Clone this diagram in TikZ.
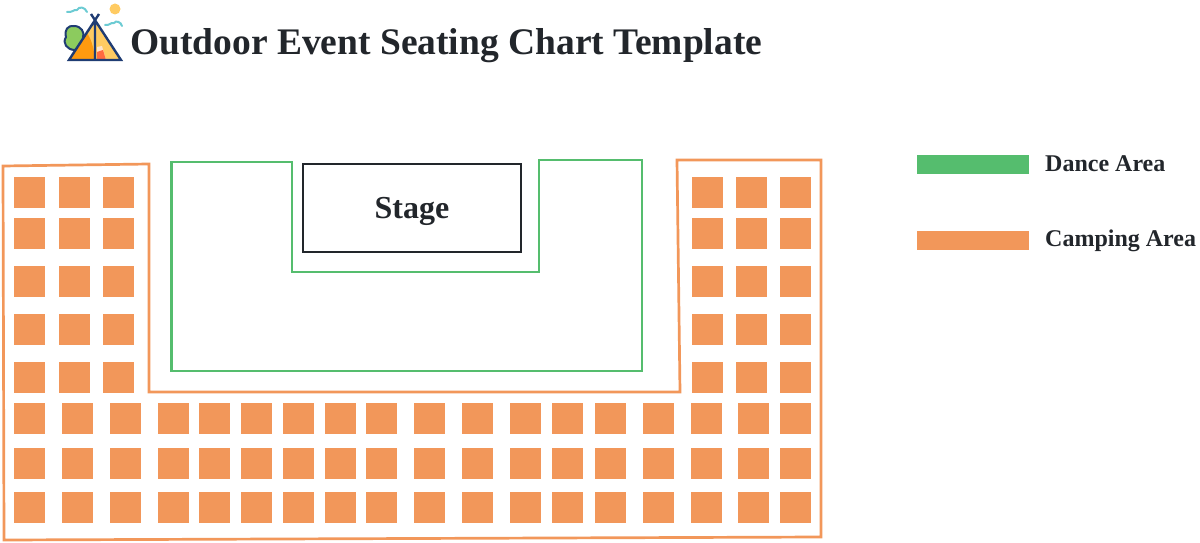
\documentclass[tikz,border=0pt]{standalone}
\usepackage{fontspec}
\setmainfont{Liberation Serif}
\definecolor{camping}{HTML}{F2975A}
\definecolor{dance}{HTML}{55BD6E}
\definecolor{ink}{HTML}{22262B}
\definecolor{navy}{HTML}{1F3C73}
\definecolor{sky}{HTML}{6CCBD3}
\definecolor{sunny}{HTML}{FFCB62}
\definecolor{leaf}{HTML}{8CCB5E}
\definecolor{deep}{HTML}{FF9A0F}
\begin{document}
\begin{tikzpicture}[x=1pt,y=-1pt,line join=miter]
    \tikzstyle{seat}=[fill=camping,minimum size=31pt,inner sep=0pt,anchor=north west]
    \tikzstyle{swatch}=[minimum width=112pt,minimum height=19pt,inner sep=0pt,anchor=north west]
    \tikzstyle{legendtext}=[text=ink,font=\fontsize{24}{24}\selectfont\bfseries,inner sep=0pt,anchor=west]
    \useasboundingbox (0,0) rectangle (1200,543);

    % icon
    \draw[sky,line width=2pt,line cap=round] (67,12) .. controls (72,13) and (74,9) .. (77,10) .. controls (79,6) and (85,7) .. (87,12);
    \draw[sky,line width=2pt,line cap=round] (105,25) .. controls (109,26) and (111,22) .. (114,23) .. controls (116,20) and (121,22) .. (122,26);
    \fill[sunny] (115,9) circle (5.5pt);
    \draw[navy,line width=2pt,fill=leaf] (75,50) .. controls (67,50) and (62,43) .. (66,37) .. controls (64,30) and (68,25) .. (74,26) .. controls (81,26) and (85,32) .. (83,38) .. controls (85,45) and (81,50) .. (75,50) -- cycle;
    \fill[sunny] (95,22) -- (69,60) -- (121,60) -- cycle;
    \fill[deep] (87,33) .. controls (92,40) and (94,50) .. (95,60) -- (69,60) -- cycle;
    \fill[orange!20!white] (97,47) -- (102,46) -- (106,60) -- (97,60) -- cycle;
    \fill[red!55!orange!75!white] (97,52) -- (103,50) -- (106,60) -- (97,60) -- cycle;
    \draw[navy,line width=2.4pt] (91,14) -- (121,60) -- (69,60) -- (99,14) (95,21) -- (95,60);

    % title
    \node[text=ink,font=\fontsize{37.5}{38}\selectfont\bfseries,inner sep=0pt,anchor=west] (title) at (130,46) {Outdoor Event Seating Chart Template};

    % areas
    \draw[camping,line width=2.7pt] (3,166) -- (149,164) -- (149,392) -- (680,392) -- (677,160) -- (821,160) -- (821,537) -- (4,540) -- cycle;
    \draw[dance,line width=2.7pt] (171.5,162) -- (292,162) -- (292,272) -- (539,272) -- (539,160) -- (642,160) -- (642,371) -- (171.5,371) -- cycle;
    \node[draw=ink,line width=2.7pt,minimum width=218pt,minimum height=88pt,inner sep=0pt] (stage) at (412,208) {};
    \node[text=ink,font=\fontsize{32}{32}\selectfont\bfseries,inner sep=0pt] (stageLabel) at (412,211) {Stage};

    % seats
    \foreach \y in {177,218,266,314,362}
    {
    \foreach \x in {14,59,103}
    \node[seat] (L-\x-\y) at (\x,\y) {};
    \foreach \x in {692,736,780}
    \node[seat] (R-\x-\y) at (\x,\y) {};
    }
    \foreach \y in {403,448,492}
    \foreach \x in {14,62,110,158,199,241,283,325,366,414,462,510,552,595,643,691,738,780}
    \node[seat] (B-\x-\y) at (\x,\y) {};

    % legend
    \node[swatch,fill=dance] (danceKey) at (917,155) {};
    \node[swatch,fill=camping] (campKey) at (917,231) {};
    \node[legendtext] (danceLabel) at (1045,164) {Dance Area};
    \node[legendtext] (campLabel) at (1045,241) {Camping Area};
\end{tikzpicture}
\end{document}
